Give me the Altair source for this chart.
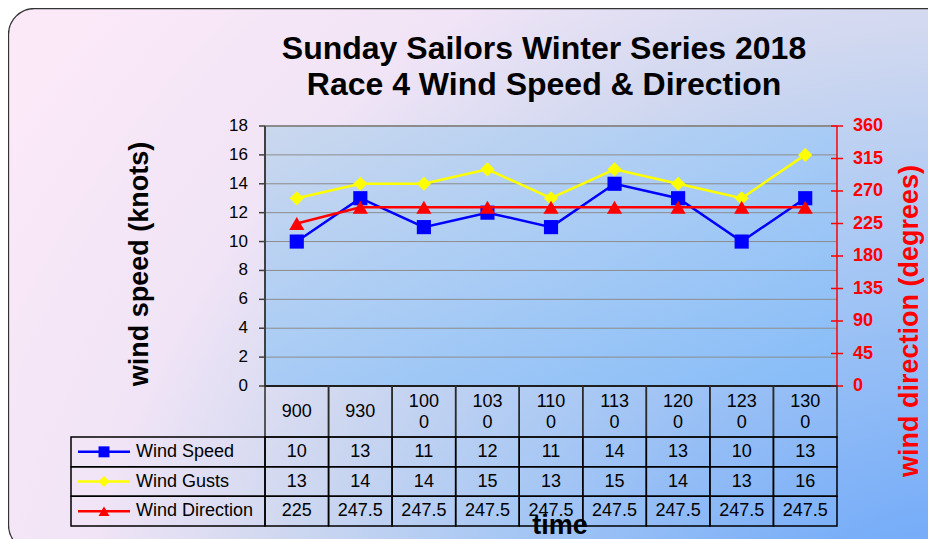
import altair as alt
import pandas as pd

# ---------------- data ----------------
times = ["900", "930", "1000", "1030", "1100", "1130", "1200", "1230", "1300"]
header_labels = ["900", "930", "100\n0", "103\n0", "110\n0", "113\n0", "120\n0", "123\n0", "130\n0"]
wind_speed = [10, 13, 11, 12, 11, 14, 13, 10, 13]
wind_gusts = [13, 14, 14, 15, 13, 15, 14, 13, 16]
wind_direction = [225, 247.5, 247.5, 247.5, 247.5, 247.5, 247.5, 247.5, 247.5]
series = ["Wind Speed", "Wind Gusts", "Wind Direction"]
series_colors = ["#0000FF", "#FFFF00", "#FF0000"]
series_shapes = ["square", "diamond", "triangle-up"]
speed_ticks = [0, 2, 4, 6, 8, 10, 12, 14, 16, 18]
direction_ticks = [0, 45, 90, 135, 180, 225, 270, 315, 360]
title_lines = ["Sunday Sailors Winter Series 2018", "Race 4 Wind Speed & Direction"]
left_title = "wind speed (knots)"
right_title = "wind direction (degrees)"
x_title = "time"

W, H = 572, 260
FONT = "Liberation Sans"


def fmt(v):
    return f"{v:g}"


idx = list(range(len(times)))
lines_df = pd.DataFrame({
    "time": times * 2,
    "idx": idx * 2,
    "series": ["Wind Speed"] * len(times) + ["Wind Gusts"] * len(times),
    "value": wind_speed + wind_gusts,
})
dir_df = pd.DataFrame({"time": times, "idx": idx, "series": "Wind Direction", "value": wind_direction})
header_df = pd.DataFrame({"time": times, "label": header_labels})
cells_df = pd.DataFrame({
    "time": times * 3,
    "series": [s for s in series for _ in times],
    "text": [fmt(v) for v in wind_speed + wind_gusts + wind_direction],
})
legend_df = pd.DataFrame({"series": series})
speed_tick_df = pd.DataFrame({"v": speed_ticks})
dir_tick_df = pd.DataFrame({"v": direction_ticks})
one = pd.DataFrame({"k": [0]})
text_df = pd.DataFrame({
    "title": ["\n".join(title_lines)],
    "lt": [left_title], "rt": [right_title], "xt": [x_title],
})

# ---------------- scales / encodings ----------------
x_scale = alt.Scale(type="band", domain=times, paddingInner=0, paddingOuter=0)
x_mid = alt.X("time:N", scale=x_scale, axis=None, bandPosition=0.5)
x_band = alt.X("time:N", scale=x_scale, axis=None)

color = alt.Color("series:N", scale=alt.Scale(domain=series, range=series_colors), legend=None)
shape = alt.Shape("series:N", scale=alt.Scale(domain=series, range=series_shapes), legend=None)

speed_scale = alt.Scale(domain=[0, 18], nice=False)
dir_scale = alt.Scale(domain=[0, 360], nice=False)
row_scale = alt.Scale(type="band", domain=series, range=[311, 400], paddingInner=0, paddingOuter=0)

y_speed = alt.Y("v:Q", scale=speed_scale, axis=None)
y_dir = alt.Y("v:Q", scale=dir_scale, axis=None)

# ---------------- backgrounds ----------------
outer_grad = alt.RadialGradient(
    gradient="radial", x1=1, y1=1, r1=0, x2=1, y2=1, r2=1.2,
    stops=[alt.GradientStop(offset=0, color="#5A98FB"),
           alt.GradientStop(offset=0.22, color="#7AAFF8"),
           alt.GradientStop(offset=0.45, color="#A8C8F4"),
           alt.GradientStop(offset=0.63, color="#D0D8F0"),
           alt.GradientStop(offset=0.78, color="#F0E4F6"),
           alt.GradientStop(offset=1, color="#FBE9F8")])
plot_grad = alt.LinearGradient(
    gradient="linear", x1=0, y1=0, x2=1, y2=1,
    stops=[alt.GradientStop(offset=0, color="#CBD8EE"),
           alt.GradientStop(offset=0.5, color="#A7CBF5"),
           alt.GradientStop(offset=1, color="#86BCF8")])

bg = alt.Chart(one).mark_rect(fill=outer_grad, cornerRadius=26, stroke="#333333",
                              strokeWidth=1.3).encode(
    x=alt.value(-256.5), x2=alt.value(700), y=alt.value(-117.5), y2=alt.value(425))
plot_bg = alt.Chart(one).mark_rect(fill=plot_grad).encode(
    x=alt.value(0), x2=alt.value(W), y=alt.value(0), y2=alt.value(H))

title = alt.Chart(text_df).mark_text(font=FONT, fontSize=32, fontWeight="bold", color="black",
                                     align="center", baseline="top", lineHeight=36,
                                     lineBreak="\n").encode(
    x=alt.value(279), y=alt.value(-92), text="title:N")
left_title_mark = alt.Chart(text_df).mark_text(font=FONT, fontSize=27, fontWeight="bold", color="black",
                                               align="center", baseline="middle", angle=270).encode(
    x=alt.value(-125), y=alt.value(138), text="lt:N")
right_title_mark = alt.Chart(text_df).mark_text(font=FONT, fontSize=27, fontWeight="bold", color="#FF0000",
                                                align="center", baseline="middle", angle=270).encode(
    x=alt.value(645), y=alt.value(195), text="rt:N")
x_title_mark = alt.Chart(text_df).mark_text(font=FONT, fontSize=27, fontWeight="bold", color="black",
                                            align="center", baseline="alphabetic").encode(
    x=alt.value(295), y=alt.value(408), text="xt:N")

# ---------------- left (speed) ----------------
grid = alt.Chart(speed_tick_df).transform_filter(alt.datum.v > 0).mark_rule(color="#8C8C8C").encode(
    x=alt.value(0), x2=alt.value(W), y=y_speed,
    strokeWidth=alt.condition(alt.datum.v == 18, alt.value(2.2), alt.value(1)))
left_ticks = alt.Chart(speed_tick_df).mark_rule(color="#404040", strokeWidth=1.5).encode(
    x=alt.value(-6), x2=alt.value(0), y=y_speed)
left_labels = alt.Chart(speed_tick_df).mark_text(font=FONT, fontSize=17, color="black", align="right",
                                                 baseline="middle").encode(
    x=alt.value(-17), y=y_speed, text="v:Q")
left_domain = alt.Chart(one).mark_rule(color="#404040", strokeWidth=2).encode(
    x=alt.value(0), y=alt.value(0), y2=alt.value(H))
zero = alt.Chart(speed_tick_df).transform_filter(alt.datum.v == 0).mark_rule(
    color="black", strokeWidth=2).encode(x=alt.value(0), x2=alt.value(W), y=y_speed)
speed_lines = alt.Chart(lines_df).mark_line(strokeWidth=2.5).encode(
    x=x_mid, y=alt.Y("value:Q", scale=speed_scale, axis=None),
    color=color, order=alt.Order("idx:Q"))
speed_pts = alt.Chart(lines_df).transform_filter(alt.datum.series == "Wind Speed").mark_point(
    filled=True, opacity=1, size=200).encode(
    x=x_mid, y=alt.Y("value:Q", scale=speed_scale, axis=None), color=color, shape=shape)
gust_pts = alt.Chart(lines_df).transform_filter(alt.datum.series == "Wind Gusts").mark_point(
    filled=True, opacity=1, size=200).encode(
    x=x_mid, y=alt.Y("value:Q", scale=speed_scale, axis=None), color=color, shape=shape)
left = alt.layer(grid, left_ticks, left_labels, left_domain, zero, speed_lines, speed_pts, gust_pts)

# ---------------- right (direction) ----------------
right_domain = alt.Chart(one).mark_rule(color="#FF0000", strokeWidth=1.5).encode(
    x=alt.value(W), y=alt.value(0), y2=alt.value(H))
right_ticks = alt.Chart(dir_tick_df).mark_rule(color="#FF0000", strokeWidth=1.5).encode(
    x=alt.value(W - 6), x2=alt.value(W + 6), y=y_dir)
right_labels = alt.Chart(dir_tick_df).mark_text(font=FONT, fontSize=18, fontWeight="bold", color="#FF0000",
                                                align="left", baseline="middle").encode(
    x=alt.value(W + 16), y=y_dir, text="v:Q")
dir_line = alt.Chart(dir_df).mark_line(strokeWidth=2.5).encode(
    x=x_mid, y=alt.Y("value:Q", scale=dir_scale, axis=None),
    color=color, order=alt.Order("idx:Q"))
dir_pts = alt.Chart(dir_df).mark_point(filled=True, opacity=1, size=230).encode(
    x=x_mid, y=alt.Y("value:Q", scale=dir_scale, axis=None), color=color, shape=shape)
right = alt.layer(right_domain, right_ticks, right_labels, dir_line, dir_pts)

# ---------------- data table ----------------
header_rect = alt.Chart(header_df).mark_rect(stroke="#2A2A2A", strokeWidth=1.5, fillOpacity=0).encode(
    x=x_band, y=alt.value(260), y2=alt.value(311))
header_text_1 = alt.Chart(header_df).transform_filter(
    "indexof(datum.label, '\\n') < 0").mark_text(
    font=FONT, fontSize=18, color="black", align="center", baseline="middle").encode(
    x=x_mid, y=alt.value(286), text="label:N")
header_text_2 = alt.Chart(header_df).transform_filter(
    "indexof(datum.label, '\\n') >= 0").mark_text(
    font=FONT, fontSize=18, color="black", align="center", baseline="middle",
    lineHeight=21, lineBreak="\n").encode(
    x=x_mid, y=alt.value(275.5), text="label:N")
cell_rect = alt.Chart(cells_df).mark_rect(stroke="black", strokeWidth=1.5, fillOpacity=0).encode(
    x=x_band, y=alt.Y("series:N", scale=row_scale, axis=None))
cell_text = alt.Chart(cells_df).mark_text(font=FONT, fontSize=18, color="black", align="center",
                                          baseline="middle").encode(
    x=x_mid, y=alt.Y("series:N", scale=row_scale, axis=None, bandPosition=0.5), text="text:N")
legend_rect = alt.Chart(legend_df).mark_rect(stroke="black", strokeWidth=1.5, fillOpacity=0).encode(
    x=alt.value(-194), x2=alt.value(0), y=alt.Y("series:N", scale=row_scale, axis=None))
legend_rule = alt.Chart(legend_df).mark_rule(strokeWidth=2.5).encode(
    x=alt.value(-187), x2=alt.value(-135),
    y=alt.Y("series:N", scale=row_scale, axis=None, bandPosition=0.5), color=color)
legend_pts = alt.Chart(legend_df).mark_point(filled=True, opacity=1, size=120).encode(
    x=alt.value(-161), y=alt.Y("series:N", scale=row_scale, axis=None, bandPosition=0.5),
    color=color, shape=shape)
legend_text = alt.Chart(legend_df).mark_text(font=FONT, fontSize=18, color="black", align="left",
                                             baseline="middle").encode(
    x=alt.value(-129), y=alt.Y("series:N", scale=row_scale, axis=None, bandPosition=0.5),
    text="series:N")

chart = alt.layer(
    bg, plot_bg, title, left_title_mark, right_title_mark, left, right,
    header_rect, header_text_1, header_text_2, cell_rect, cell_text,
    legend_rect, legend_rule, legend_pts, legend_text, x_title_mark,
).resolve_scale(y="independent").properties(
    width=W, height=H,
    autosize=alt.AutoSizeParams(type="none"),
    padding={"left": 257, "top": 118, "right": 91, "bottom": 153},
).configure(font=FONT).configure_view(stroke=None)

chart.save("out.html", embed_options={"renderer": "svg", "actions": False})
